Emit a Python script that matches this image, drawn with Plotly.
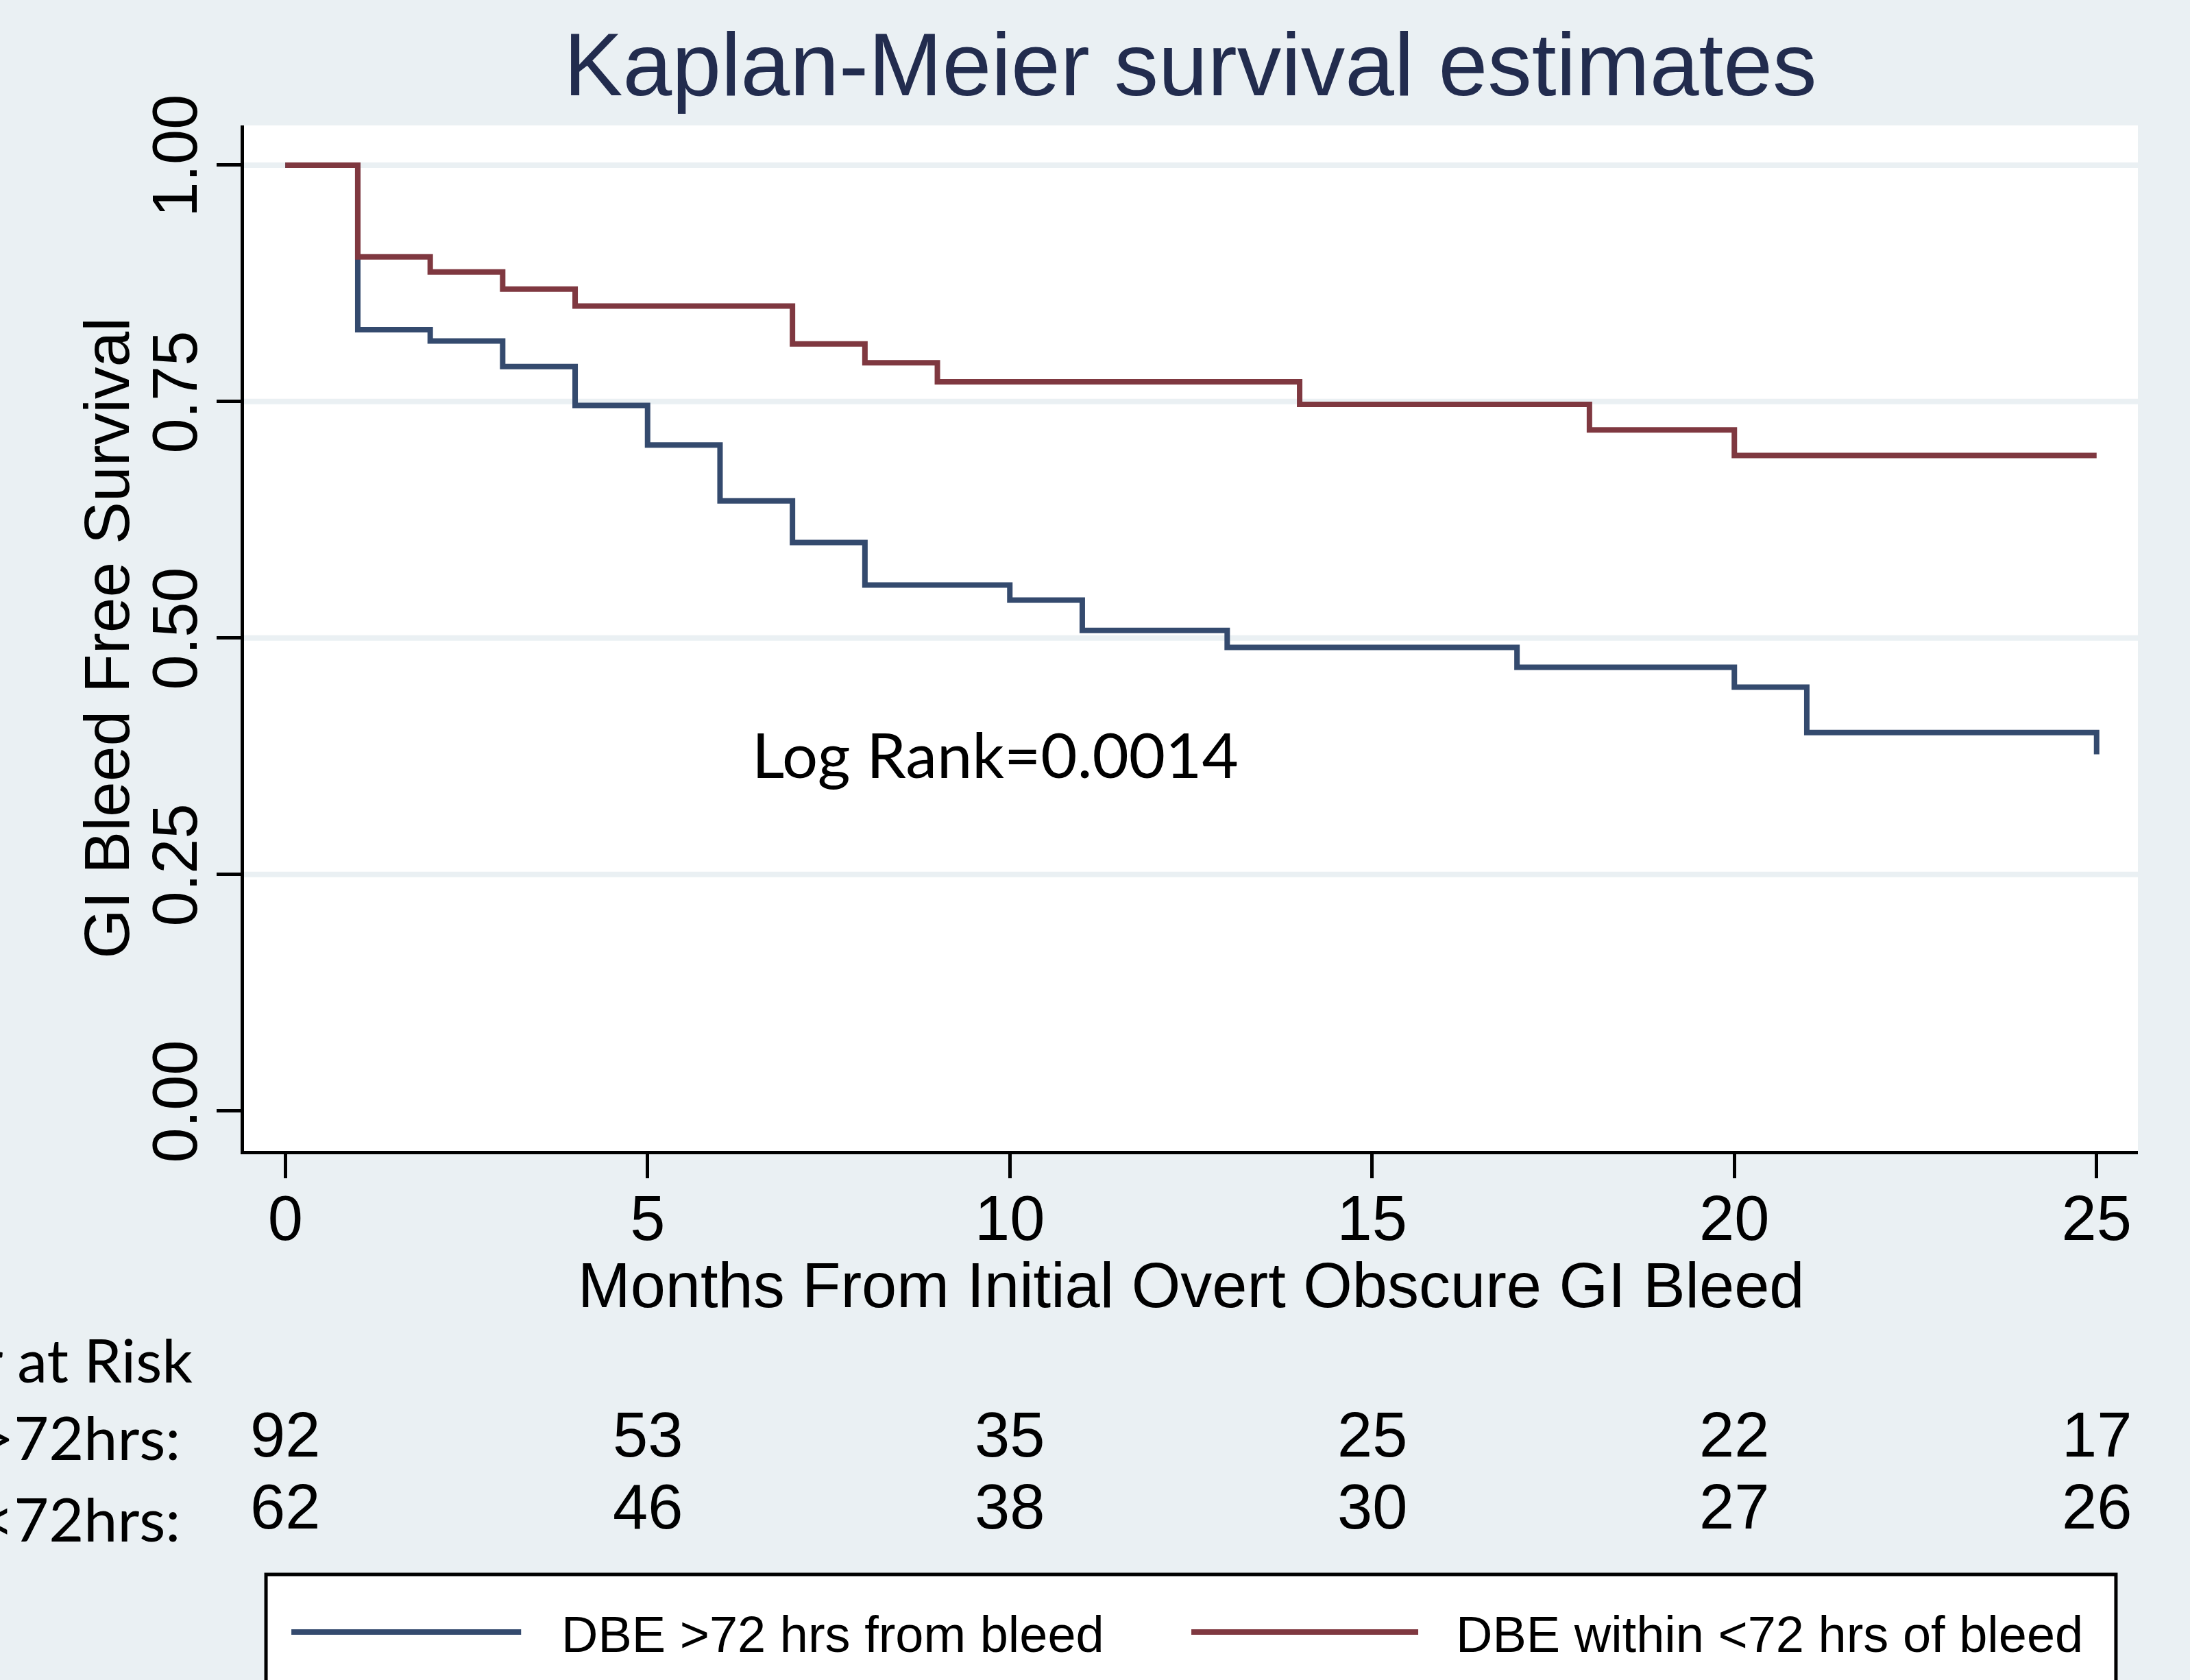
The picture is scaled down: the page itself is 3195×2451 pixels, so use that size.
import plotly.graph_objects as go

# ---- data ----
times_late = [0, 1, 2, 3, 4, 5, 6, 7, 8, 10, 11, 13, 17, 20, 21, 25]
surv_late = [1.0, 0.826, 0.814, 0.787, 0.746, 0.704, 0.645, 0.601, 0.556, 0.540,
             0.508, 0.490, 0.469, 0.448, 0.400, 0.377]
times_early = [0, 1, 2, 3, 4, 7, 8, 9, 14, 18, 20, 25]
surv_early = [1.0, 0.903, 0.887, 0.869, 0.851, 0.811, 0.791, 0.771, 0.747, 0.720, 0.693, 0.693]

name_late = "DBE >72 hrs from bleed"
name_early = "DBE within <72 hrs of bleed"

risk_times = [0, 5, 10, 15, 20, 25]
risk_late = [92, 53, 35, 25, 22, 17]
risk_early = [62, 46, 38, 30, 27, 26]
risk_label_late = "DBE >72hrs:"
risk_label_early = "DBE <72hrs:"

x_ticks = [0, 5, 10, 15, 20, 25]
y_ticks = [0.0, 0.25, 0.5, 0.75, 1.0]
y_ticklabels = ["0.00", "0.25", "0.50", "0.75", "1.00"]

# ---- styles ----
BG = "#EAF0F3"
BLUE = "#344A6E"
RED = "#7F3840"
TITLE_C = "#222C4E"
ARIAL = "Liberation Sans, Arial, sans-serif"
CALIBRI = "Lato, Carlito, Calibri, sans-serif"

fig = go.Figure()
fig.add_trace(go.Scatter(x=times_late, y=surv_late, mode="lines", name=name_late,
                         line=dict(color=BLUE, width=8, shape="hv"), showlegend=False))
fig.add_trace(go.Scatter(x=times_early, y=surv_early, mode="lines", name=name_early,
                         line=dict(color=RED, width=8, shape="hv"), showlegend=False))

annotations = []
# axis titles
annotations.append(dict(text="GI Bleed Free Survival", xref="paper", yref="paper",
                        x=-0.0725, y=0.5, xanchor="center", yanchor="middle",
                        textangle=-90, showarrow=False,
                        font=dict(family=ARIAL, size=93, color="black")))
annotations.append(dict(text="Months From Initial Overt Obscure GI Bleed", xref="paper",
                        yref="paper", x=0.5, y=-0.131, xanchor="center", yanchor="middle",
                        showarrow=False, font=dict(family=ARIAL, size=92, color="black")))
# log rank
annotations.append(dict(text="Log Rank=0.0014", xref="x", yref="y", x=6.42, y=0.378,
                        xanchor="left", yanchor="middle", showarrow=False,
                        font=dict(family=CALIBRI, size=92, color="black")))
# number at risk
annotations.append(dict(text="Number at Risk", xref="paper", yref="paper", x=-0.0265,
                        y=-0.203, xanchor="right", yanchor="middle", showarrow=False,
                        font=dict(family=CALIBRI, size=88, color="black")))
annotations.append(dict(text=risk_label_late, xref="paper", yref="paper", x=-0.033,
                        y=-0.2787, xanchor="right", yanchor="middle", showarrow=False,
                        font=dict(family=CALIBRI, size=88, color="black")))
annotations.append(dict(text=risk_label_early, xref="paper", yref="paper", x=-0.033,
                        y=-0.3583, xanchor="right", yanchor="middle", showarrow=False,
                        font=dict(family=CALIBRI, size=88, color="black")))
for t, a, b in zip(risk_times, risk_late, risk_early):
    annotations.append(dict(text=str(a), xref="x", yref="paper", x=t, y=-0.2767,
                            xanchor="center", yanchor="middle", showarrow=False,
                            font=dict(family=ARIAL, size=92, color="black")))
    annotations.append(dict(text=str(b), xref="x", yref="paper", x=t, y=-0.3469,
                            xanchor="center", yanchor="middle", showarrow=False,
                            font=dict(family=ARIAL, size=92, color="black")))

# legend (drawn manually to match the wide key lines)
shapes = [
    dict(type="rect", xref="paper", yref="paper", x0=0.0116, x1=0.9884, y0=-0.4131, y1=-0.65,
         line=dict(color="black", width=5), fillcolor="white", layer="above"),
    dict(type="line", xref="paper", yref="paper", x0=0.025, x1=0.1463, y0=-0.4693, y1=-0.4693,
         line=dict(color=BLUE, width=8), layer="above"),
    dict(type="line", xref="paper", yref="paper", x0=0.5002, x1=0.62, y0=-0.4693, y1=-0.4693,
         line=dict(color=RED, width=8), layer="above"),
]
annotations.append(dict(text=name_late, xref="paper", yref="paper", x=0.167, y=-0.4713,
                        xanchor="left", yanchor="middle", showarrow=False,
                        font=dict(family=ARIAL, size=74, color="black")))
annotations.append(dict(text=name_early, xref="paper", yref="paper", x=0.6393, y=-0.4713,
                        xanchor="left", yanchor="middle", showarrow=False,
                        font=dict(family=ARIAL, size=74, color="black")))

fig.update_layout(
    width=3195, height=2451,
    paper_bgcolor=BG, plot_bgcolor="white",
    margin=dict(l=356, r=76, t=183, b=772),
    title=dict(text="Kaplan-Meier survival estimates", x=0.5435, xanchor="center",
               y=1 - 94 / 2451, yanchor="middle", yref="container",
               font=dict(family=ARIAL, size=129, color=TITLE_C)),
    showlegend=False,
    annotations=annotations,
    shapes=shapes,
)
fig.update_xaxes(range=[-0.57, 25.57], tickvals=x_ticks, showgrid=False, zeroline=False,
                 showline=True, linecolor="black", linewidth=5, ticks="outside",
                 ticklen=35, tickwidth=5, tickcolor="black", ticklabelstandoff=-20,
                 tickfont=dict(family=ARIAL, size=92, color="black"))
fig.update_yaxes(range=[-0.0423, 1.042], tickvals=y_ticks, ticktext=y_ticklabels,
                 tickangle=-90, showgrid=False, zeroline=False,
                 showline=True, linecolor="black", linewidth=5, ticks="outside",
                 ticklen=35, tickwidth=5, tickcolor="black", ticklabelstandoff=-8,
                 tickfont=dict(family=ARIAL, size=92, color="black"))
# gridlines (Stata style: no line at 0)
for yv in y_ticks[1:]:
    fig.add_hline(y=yv, line=dict(color=BG, width=8), layer="below")

fig.write_html("out.html",
               config={"displayModeBar": False},
               post_script="document.body.style.margin='0';"
                           "document.body.style.background='" + BG + "';")
